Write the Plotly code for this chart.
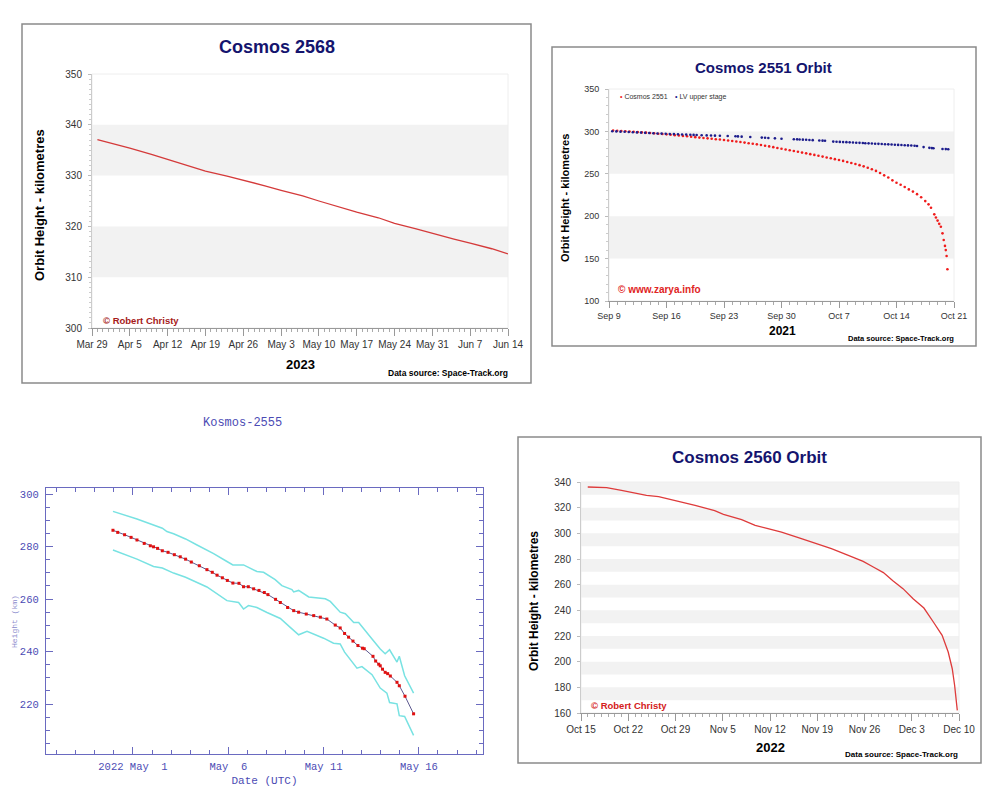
import plotly.graph_objects as go
import pandas as pd

# the page is shown with an 8px body margin, so the figure is sized to fit the window
OFF = 8
W, H = 1000 - OFF, 800 - OFF


def px(x):
    return (x - OFF) / W


def py(y):
    return 1 - (y - OFF) / H


def to_dates(start, days):
    t0 = pd.Timestamp(start)
    return [t0 + pd.Timedelta(days=d) for d in days]


# ---------------- Chart 1: Cosmos 2568 (2023) ----------------
c2568_dates = ["2023-03-30", "2023-04-02", "2023-04-05", "2023-04-09", "2023-04-12",
               "2023-04-16", "2023-04-19", "2023-04-23", "2023-04-25", "2023-04-26",
               "2023-04-30", "2023-05-03", "2023-05-07", "2023-05-10", "2023-05-14",
               "2023-05-17", "2023-05-21", "2023-05-24", "2023-05-28", "2023-05-31",
               "2023-06-04", "2023-06-07", "2023-06-11", "2023-06-14"]
c2568_height = [337.1, 336.3, 335.4, 334.2, 333.2, 332.0, 330.9, 329.9, 329.4, 329.0,
                328.0, 327.1, 326.0, 325.0, 323.7, 322.8, 321.7, 320.6, 319.5, 318.6,
                317.5, 316.7, 315.6, 314.6]

# ---------------- Chart 2: Cosmos 2551 Orbit (2021) ----------------
c2551_start = "2021-09-09"
c2551_days = [0.5, 1.0, 1.5, 2.0, 2.5, 3.0, 3.5, 4.0, 4.5, 5.0, 5.5, 6.0, 6.5, 7.0,
              7.5, 8.0, 8.5, 9.0, 9.5, 10.0, 10.5, 11.0, 11.5, 12.0, 12.5, 13.0, 13.5, 14.0,
              14.5, 15.0, 15.5, 16.0, 16.5, 17.0, 17.5, 18.0, 18.5, 19.0, 19.5, 20.0, 20.5, 21.0,
              21.5, 22.0, 22.5, 23.0, 23.5, 24.0, 24.5, 25.0, 25.5, 26.0, 26.5, 27.0, 27.5, 28.0,
              28.5, 29.0, 29.5, 30.0, 30.5, 31.0, 31.5, 32.0, 32.5, 33.0, 33.5, 34.0, 34.5, 35.0,
              35.5, 36.0, 36.5, 37.0, 37.5, 38.0, 38.5, 38.9, 39.2, 39.6, 39.8, 40.0, 40.2, 40.4,
              40.6, 40.75, 40.9, 41.0, 41.1, 41.2]
c2551_height = [301.0, 300.7, 300.4, 300.1, 299.8, 299.5, 299.2, 298.8, 298.5, 298.1, 297.7, 297.3, 296.9, 296.5,
                296.0, 295.6, 295.1, 294.6, 294.2, 293.7, 293.2, 292.7, 292.2, 291.8, 291.3, 290.8, 290.4, 289.9,
                289.3, 288.7, 288.1, 287.5, 286.8, 286.1, 285.4, 284.7, 283.9, 283.1, 282.3, 281.4, 280.5, 279.6,
                278.7, 277.8, 276.9, 276.0, 275.0, 274.1, 273.2, 272.3, 271.3, 270.3, 269.3, 268.3, 267.3, 266.3,
                265.2, 264.0, 262.8, 261.6, 260.2, 258.8, 257.2, 255.4, 253.4, 251.0, 248.2, 245.6, 242.3, 239.5,
                237.0, 234.4, 231.6, 229.0, 226.0, 222.3, 217.8, 214.0, 210.0, 202.2, 198.5, 194.8, 191.0, 187.6,
                179.8, 172.0, 165.0, 160.0, 153.0, 137.4]
lv_days = [0.4, 0.9, 1.4, 1.9, 2.4, 2.9, 3.4, 3.9, 4.4, 4.9, 5.4, 5.9, 6.4, 6.9, 7.4, 7.9, 8.4, 8.9,
           9.4, 9.9, 10.3, 10.67, 11.28, 11.89, 12.42, 12.9, 13.5, 14.45, 15.4, 15.7, 16.15, 17.2,
           18.6, 19.0, 19.4, 20.2, 21.0, 22.5, 22.9, 23.2, 23.6, 24.0, 24.4, 24.8, 25.6, 26.0, 26.3,
           27.3, 27.7, 28.1, 28.5, 28.9, 29.3, 29.7, 30.1, 30.5, 30.9, 31.2, 31.6, 32.0, 32.4, 32.8,
           33.2, 33.6, 34.0, 34.4, 34.8, 35.2, 35.6, 36.0, 36.4, 36.8, 37.2, 37.5, 38.3, 39.0, 39.3,
           39.5, 40.6, 41.0, 41.3]
lv_height = [300.2, 300.0, 299.7, 299.5, 299.3, 299.0, 298.8, 298.6, 298.3, 298.1, 297.9, 297.6, 297.4, 297.2,
             297.0, 296.8, 296.6, 296.4, 296.2, 296.0, 295.9, 295.8, 295.5, 295.3, 295.1, 295.0, 294.8, 294.5,
             294.2, 294.1, 293.8, 293.4, 292.7, 292.5, 292.3, 291.8, 291.4, 290.8, 290.6, 290.5, 290.3, 290.1,
             289.9, 289.7, 289.3, 289.1, 288.9, 288.0, 287.8, 287.6, 287.4, 287.3, 287.1, 286.9, 286.7, 286.5,
             286.3, 286.1, 285.9, 285.7, 285.5, 285.3, 285.1, 284.9, 284.7, 284.5, 284.3, 284.1, 283.9, 283.7,
             283.5, 283.3, 283.0, 282.8, 281.5, 280.6, 280.3, 280.1, 279.3, 279.1, 278.9]

# ---------------- Chart 3: Kosmos-2555 (2022) ----------------
k2555_start = "2022-05-01"
k2555_days = [-1.05, -0.80, -0.44, -0.10, 0.21, 0.59, 0.91, 1.08, 1.29, 1.54, 1.84, 2.17, 2.48, 2.76,
              3.06, 3.48, 3.88, 4.16, 4.41, 4.69, 4.95, 5.24, 5.56, 5.80, 6.05, 6.33, 6.61, 6.89,
              7.08, 7.48, 7.73, 8.11, 8.43, 8.69, 9.09, 9.48, 9.83, 10.17, 10.61, 10.87, 11.10, 11.31,
              11.54, 11.80, 12.04, 12.13, 12.59, 12.73, 12.89, 12.97, 13.09, 13.23, 13.36, 13.50, 13.85,
              13.97, 14.27, 14.72]
k2555_height = [286.2, 285.4, 284.5, 283.5, 282.5, 281.2, 280.3, 279.9, 279.3, 278.4, 277.8, 276.9, 276.1, 275.2,
                274.1, 272.7, 271.2, 270.2, 269.1, 268.1, 267.1, 266.1, 266.0, 264.7, 264.7, 263.9, 263.3, 262.5,
                261.7, 259.9, 258.7, 256.8, 255.6, 255.0, 254.3, 253.7, 253.1, 252.4, 250.1, 249.0, 246.9, 245.5,
                244.0, 242.3, 241.3, 241.1, 238.2, 236.4, 235.2, 234.6, 233.3, 232.1, 231.6, 230.7, 228.3,
                227.0, 223.0, 216.3]
k2555_upper_days = [-1.05, 0.21, 1.54, 1.78, 2.13, 2.76, 3.36, 4.23, 4.93, 5.24, 5.80, 6.50, 6.85, 7.46,
                    7.81, 8.34, 8.43, 8.69, 9.22, 10.09, 10.35, 10.87, 11.14, 11.58, 11.84, 12.10, 12.54,
                    12.97, 13.23, 13.46, 13.85, 13.97, 14.25, 14.72]
k2555_upper = [293.4, 290.5, 287.0, 285.7, 284.9, 282.9, 280.6, 277.3, 274.3, 273.0, 273.0, 270.5, 270.2, 267.4,
               265.1, 263.6, 262.7, 263.3, 260.8, 260.1, 259.1, 255.0, 254.4, 251.1, 251.1, 248.6, 244.8,
               241.0, 239.2, 240.7, 236.0, 238.2, 230.8, 224.2]
k2555_lower_days = [-1.05, 0.21, 1.08, 1.54, 2.13, 2.76, 3.88, 4.93, 5.54, 5.80, 6.06, 6.50, 7.03, 7.73,
                    8.25, 8.69, 9.13, 10.00, 10.52, 10.87, 11.10, 11.75, 12.01, 12.54, 12.97, 13.32, 13.46,
                    13.85, 13.97, 14.25, 14.72]
k2555_lower = [278.7, 275.2, 272.4, 271.8, 269.9, 268.3, 264.6, 259.4, 258.7, 256.2, 257.5, 256.8, 254.9, 252.6,
               249.2, 246.4, 247.7, 245.1, 243.2, 242.9, 239.8, 233.7, 234.3, 231.2, 226.1, 224.2, 220.6,
               220.1, 215.6, 215.3, 208.1]
k2555_tickvals = ["2022-05-01", "2022-05-06", "2022-05-11", "2022-05-16"]
k2555_ticktext = ["2022 May\u00a0\u00a01", "May\u00a0\u00a06", "May 11", "May 16"]

# ---------------- Chart 4: Cosmos 2560 Orbit (2022) ----------------
c2560_start = "2022-10-15"
c2560_days = [1.0, 3.8, 6.0, 8.0, 9.7, 11.5, 13.9, 16.9, 19.8, 21.1, 23.8, 25.8, 27.7, 29.7, 32.2, 34.6,
              37.1, 39.6, 41.8, 43.3, 44.8, 46.2, 47.7, 49.2, 50.8, 52.2, 53.5, 54.4, 55.0, 55.35,
              55.6, 55.75]
c2560_height = [336.1, 335.6, 333.5, 331.7, 329.6, 328.6, 325.7, 321.8, 317.7, 314.8, 310.6, 306.2, 303.6,
                301.0, 296.6, 292.7, 288.1, 282.9, 278.2, 273.8, 269.4, 263.1, 256.9, 249.1, 241.8, 230.9,
                220.5, 207.5, 194.5, 181.6, 171.2, 162.1]

DAY = 86400000
SANS = "Liberation Sans, Arial, sans-serif"
MONO = "Liberation Mono, Courier New, monospace"
NAVY = "#14146e"
K_BLUE = "#4b4bb4"
K_AXIS = "#6a6ac0"
RED_2551 = "#f01c1c"
BLUE_LV = "#1c1c8c"

fig = go.Figure()

fig.add_trace(go.Scatter(x=c2568_dates, y=c2568_height, mode="lines",
                         line=dict(color="#d43a3a", width=1.3), xaxis="x", yaxis="y",
                         hoverinfo="skip"))
fig.add_trace(go.Scatter(x=to_dates(c2551_start, c2551_days), y=c2551_height, mode="markers",
                         name="Cosmos 2551", marker=dict(color=RED_2551, size=2.6),
                         xaxis="x2", yaxis="y2"))
fig.add_trace(go.Scatter(x=to_dates(c2551_start, lv_days), y=lv_height, mode="markers",
                         name="LV upper stage", marker=dict(color=BLUE_LV, size=2.6),
                         xaxis="x2", yaxis="y2"))
fig.add_trace(go.Scatter(x=to_dates(k2555_start, k2555_upper_days), y=k2555_upper, mode="lines",
                         line=dict(color="#78e2e2", width=1.5), xaxis="x3", yaxis="y3"))
fig.add_trace(go.Scatter(x=to_dates(k2555_start, k2555_lower_days), y=k2555_lower, mode="lines",
                         line=dict(color="#78e2e2", width=1.5), xaxis="x3", yaxis="y3"))
fig.add_trace(go.Scatter(x=to_dates(k2555_start, k2555_days), y=k2555_height, mode="lines+markers",
                         line=dict(color="#5e5a90", width=1),
                         marker=dict(color="#e01010", size=3, symbol="square"),
                         xaxis="x3", yaxis="y3"))
fig.add_trace(go.Scatter(x=to_dates(c2560_start, c2560_days), y=c2560_height, mode="lines",
                         line=dict(color="#de3b3b", width=1.3), xaxis="x4", yaxis="y4",
                         hoverinfo="skip"))

tickf = dict(family=SANS, size=10, color="#333333")

common_x = dict(type="date", ticks="outside", ticklen=7, tickcolor="#999999", showgrid=False,
                showline=True, linecolor="#999999", linewidth=1, zeroline=False, tickfont=tickf,
                tickformat="%b %-d", dtick=7 * DAY, automargin=False,
                minor=dict(dtick=DAY, ticks="outside", ticklen=3, tickcolor="#aaaaaa", showgrid=False))
common_y = dict(ticks="outside", ticklen=3, tickcolor="#bbbbbb", showgrid=False, showline=True,
                linecolor="#cccccc", linewidth=1, zeroline=False, tickfont=tickf,
                ticklabelstandoff=4, automargin=False)

fig.update_layout(
    width=W, height=H, margin=dict(l=0, r=0, t=0, b=0, autoexpand=False),
    paper_bgcolor="white", plot_bgcolor="rgba(0,0,0,0)", showlegend=False,
    xaxis=dict(common_x, domain=[px(92), px(508)], anchor="y",
               range=["2023-03-29", "2023-06-14"], tick0="2023-03-29"),
    yaxis=dict(common_y, domain=[py(328), py(74)], anchor="x", range=[300, 350], dtick=10,
               minor=dict(dtick=1, ticks="outside", ticklen=2, tickcolor="#cccccc")),
    xaxis2=dict(common_x, domain=[px(609), px(954)], anchor="y2",
                range=["2021-09-09", "2021-10-21"], tick0="2021-09-09",
                tickfont=dict(family=SANS, size=9, color="#333333"), ticklen=6),
    yaxis2=dict(common_y, domain=[py(301), py(89)], anchor="x2", range=[100, 350], dtick=50,
                tickfont=dict(family=SANS, size=9, color="#333333"),
                minor=dict(dtick=10, ticks="outside", ticklen=2, tickcolor="#cccccc")),
    xaxis3=dict(type="date", domain=[px(46), px(483)], anchor="y3", automargin=False,
                range=["2022-04-26 10:30", "2022-05-19 08:40"],
                tickmode="array", tickvals=k2555_tickvals, ticktext=k2555_ticktext,
                ticks="inside", ticklen=7, tickcolor=K_AXIS, tickwidth=1.2,
                showline=True, linecolor=K_AXIS, linewidth=1.3, mirror="allticks",
                showgrid=False, zeroline=False, ticklabelstandoff=2,
                tickfont=dict(family=MONO, size=10.5, color=K_BLUE),
                minor=dict(tickmode="linear", tick0="2022-04-27", dtick=DAY, ticks="inside",
                           ticklen=4, tickcolor=K_AXIS, showgrid=False),
                title=dict(text="Date (UTC)", font=dict(family=MONO, size=11, color=K_BLUE),
                           standoff=4)),
    yaxis3=dict(domain=[py(754), py(488)], anchor="x3", range=[201, 302.3], dtick=20, tick0=0,
                automargin=False,
                ticks="inside", ticklen=7, tickcolor=K_AXIS, tickwidth=1.2,
                showline=True, linecolor=K_AXIS, linewidth=1.3, mirror="allticks",
                showgrid=False, zeroline=False, ticklabelstandoff=4,
                tickfont=dict(family=MONO, size=10.5, color=K_BLUE),
                minor=dict(dtick=5, tick0=0, ticks="inside", ticklen=4, tickcolor=K_AXIS,
                           showgrid=False)),
    xaxis4=dict(common_x, domain=[px(581), px(959)], anchor="y4",
                range=["2022-10-15", "2022-12-10"], tick0="2022-10-15"),
    yaxis4=dict(common_y, domain=[py(713), py(482)], anchor="x4", range=[160, 340], dtick=20),
)

shapes = []
for (x0, y0, x1, y1) in [(22, 24, 531, 383), (552, 47, 976, 346), (518, 437, 981, 763)]:
    shapes.append(dict(type="rect", xref="paper", yref="paper", x0=px(x0), x1=px(x1),
                       y0=py(y1), y1=py(y0), line=dict(color="#8a8a8a", width=1.5),
                       fillcolor="rgba(0,0,0,0)", layer="below"))

BAND = "#f2f2f2"
for lo in [310, 330]:
    shapes.append(dict(type="rect", xref="x domain", yref="y", x0=0, x1=1, y0=lo, y1=lo + 10,
                       fillcolor=BAND, line=dict(width=0), layer="below"))
for lo in [150, 250]:
    shapes.append(dict(type="rect", xref="x2 domain", yref="y2", x0=0, x1=1, y0=lo, y1=lo + 50,
                       fillcolor=BAND, line=dict(width=0), layer="below"))
for lo in range(170, 340, 20):
    shapes.append(dict(type="rect", xref="x4 domain", yref="y4", x0=0, x1=1, y0=lo, y1=lo + 10,
                       fillcolor=BAND, line=dict(width=0), layer="below"))
for ax in ["", "2", "4"]:
    shapes.append(dict(type="rect", xref=f"x{ax} domain", yref=f"y{ax} domain", x0=0, x1=1, y0=0, y1=1,
                       line=dict(color="#eeeeee", width=1), fillcolor="rgba(0,0,0,0)", layer="below"))
fig.update_layout(shapes=shapes)


def ann(text, x, y, size, color="#000000", bold=False, xanchor="center", family=SANS, angle=0):
    t = f"<b>{text}</b>" if bold else text
    return dict(text=t, x=px(x), y=py(y), xref="paper", yref="paper", showarrow=False,
                xanchor=xanchor, yanchor="middle", textangle=angle,
                font=dict(family=family, size=size, color=color))


anns = [
    # chart 1
    ann("Cosmos 2568", 277, 47, 18, NAVY, True),
    ann("Orbit Height - kilometres", 40, 205, 13, "#000000", True, angle=-90),
    ann("2023", 300, 365, 13, "#000000", True),
    ann("Data source: Space-Track.org", 510, 373, 8.5, "#000000", True, xanchor="right"),
    ann("© Robert Christy", 101, 320, 9.5, "#a61a1a", True, xanchor="left"),
    # chart 2
    ann("Cosmos 2551 Orbit", 763, 67, 15, NAVY, True),
    ann("Orbit Height - kilometres", 565, 198, 11, "#000000", True, angle=-90),
    ann("2021", 782, 331, 12, "#000000", True),
    ann("Data source: Space-Track.org", 956, 338, 7.5, "#000000", True, xanchor="right"),
    ann("© www.zarya.info", 616, 289, 10, "#e02424", True, xanchor="left"),
    ann(f"<span style='color:{RED_2551}'>•</span> Cosmos 2551", 618, 97, 7, "#333333", False,
        xanchor="left"),
    ann(f"<span style='color:{BLUE_LV}'>•</span> LV upper stage", 673, 97, 7, "#333333", False,
        xanchor="left"),
    # chart 3
    ann("Kosmos-2555", 242, 423, 12, K_BLUE, False, family=MONO),
    ann("Height (km)", 14, 622, 8, "#8a8acc", False, family=MONO, angle=-90),
    # chart 4
    ann("Cosmos 2560 Orbit", 749, 457, 17, NAVY, True),
    ann("Orbit Height - kilometres", 534, 601, 12, "#000000", True, angle=-90),
    ann("2022", 770, 747, 13, "#000000", True),
    ann("Data source: Space-Track.org", 960, 754, 8, "#000000", True, xanchor="right"),
    ann("© Robert Christy", 589, 705, 9.5, "#d42020", True, xanchor="left"),
]
fig.update_layout(annotations=anns)

fig.write_html("out.html")
